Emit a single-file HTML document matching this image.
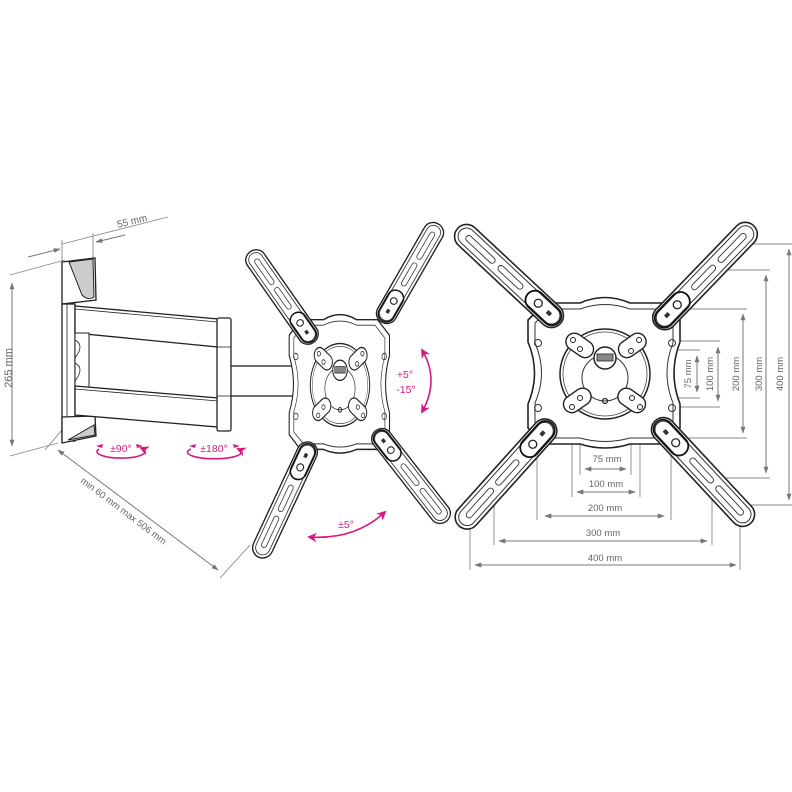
<!DOCTYPE html>
<html><head><meta charset="utf-8"><style>
html,body{margin:0;padding:0;background:#fff}
svg{display:block}
text{font-family:"Liberation Sans",sans-serif}
</style></head><body>
<svg width="792" height="792" viewBox="0 0 792 792" xmlns="http://www.w3.org/2000/svg">
<defs>
<marker id="ag" viewBox="0 0 10 10" refX="9" refY="5" markerWidth="7" markerHeight="7" orient="auto-start-reverse"><path d="M0,1.5 L10,5 L0,8.5 z" fill="#777"/></marker>
<marker id="am" viewBox="0 0 10 10" refX="8" refY="5" markerWidth="6" markerHeight="6" orient="auto-start-reverse"><path d="M0,0 L10,5 L0,10 L3,5 z" fill="#d6197f"/></marker>
<g id="arm">
<rect x="-70" y="-12" width="140" height="24" rx="12" fill="#fff" stroke="#222" stroke-width="1.6"/>
<rect x="-66.5" y="-8.5" width="133" height="17" rx="8.5" fill="none" stroke="#333" stroke-width="1"/>
<rect x="-58" y="-3" width="38" height="6" rx="3" fill="none" stroke="#333" stroke-width="0.9"/>
<rect x="-14" y="-3" width="32" height="6" rx="3" fill="none" stroke="#333" stroke-width="0.9"/>
<rect x="26" y="-9.5" width="42" height="19" rx="9.5" fill="none" stroke="#111" stroke-width="1.8"/>
<circle cx="40" cy="0" r="4" fill="#fff" stroke="#222" stroke-width="1.3"/>
<rect x="52" y="-2" width="5" height="4" fill="#333"/>
</g>
<g id="plate">
<path d="M545,303 L580,303 Q605,292 630,303 L662,303 L680,320 V342 Q668,373 680,404 V428 L662,444 L630,444 Q605,452 580,444 L545,444 L528,428 V404 Q541,373 528,342 V320 Z" fill="#fff" stroke="#222" stroke-width="1.6"/>
<path d="M550,309 L580,309 Q605,300 630,309 L658,309 L673,323 V343 Q661,373 673,403 V425 L658,438 L630,438 Q605,445 580,438 L550,438 L535,425 V403 Q548,373 535,343 V323 Z" fill="none" stroke="#333" stroke-width="1"/>
<circle cx="538" cy="343" r="3.5" fill="none" stroke="#333"/>
<circle cx="672" cy="343" r="3.5" fill="none" stroke="#333"/>
<circle cx="538" cy="408" r="3.5" fill="none" stroke="#333"/>
<circle cx="672" cy="408" r="3.5" fill="none" stroke="#333"/>
<circle cx="605" cy="374" r="45" fill="#fff" stroke="#222" stroke-width="1.5"/>
<circle cx="605" cy="374" r="42" fill="none" stroke="#444" stroke-width="0.8"/>
<circle cx="605" cy="378" r="23" fill="none" stroke="#333" stroke-width="1"/>
<circle cx="605" cy="358" r="11" fill="#fff" stroke="#222" stroke-width="1.5"/>
<rect x="597" y="354" width="16" height="7" fill="#888" stroke="#222" stroke-width="0.8"/>
<circle cx="605" cy="401" r="2.5" fill="none" stroke="#222" stroke-width="1.2"/>
<g fill="#fff" stroke="#222" stroke-width="1.4">
<rect x="565" y="337" width="30" height="17" rx="8.5" transform="rotate(35 580 345)"/>
<rect x="617" y="337" width="30" height="17" rx="8.5" transform="rotate(-35 632 345)"/>
<rect x="562" y="392" width="30" height="17" rx="8.5" transform="rotate(-35 577 400)"/>
<rect x="617" y="392" width="30" height="17" rx="8.5" transform="rotate(35 632 400)"/>
</g>
<g fill="none" stroke="#222" stroke-width="1">
<circle cx="573" cy="340" r="2.5"/><circle cx="580" cy="349" r="2.5"/>
<circle cx="639" cy="340" r="2.5"/><circle cx="631" cy="351" r="2.5"/>
<circle cx="572" cy="407" r="2.5"/><circle cx="580" cy="398" r="2.5"/>
<circle cx="632" cy="398" r="2.5"/><circle cx="640" cy="407" r="2.5"/>
</g>
</g>
</defs>

<g fill="none" stroke="#888" stroke-width="0.9">
<line x1="580" y1="400" x2="580" y2="475"/><line x1="631" y1="400" x2="631" y2="475"/>
<line x1="572" y1="407" x2="572" y2="497"/><line x1="640" y1="407" x2="640" y2="497"/>
<line x1="537" y1="445" x2="537" y2="520"/><line x1="671" y1="445" x2="671" y2="520"/>
<line x1="494" y1="478" x2="494" y2="545"/><line x1="712" y1="478" x2="712" y2="545"/>
<line x1="470" y1="505" x2="470" y2="570"/><line x1="740" y1="505" x2="740" y2="570"/>
<line x1="632" y1="350" x2="700" y2="350"/><line x1="632" y1="398" x2="700" y2="398"/>
<line x1="640" y1="341" x2="720" y2="341"/><line x1="640" y1="407" x2="720" y2="407"/>
<line x1="672" y1="309" x2="747" y2="309"/><line x1="672" y1="438" x2="747" y2="438"/>
<line x1="712" y1="270" x2="770" y2="270"/><line x1="712" y1="478" x2="770" y2="478"/>
<line x1="740" y1="244" x2="792" y2="244"/><line x1="740" y1="505" x2="792" y2="505"/>
</g>
<use href="#plate"/>
<use href="#arm" transform="translate(509,276) rotate(43)"/>
<use href="#arm" transform="translate(705,276) rotate(134)"/>
<use href="#arm" transform="translate(506,474) rotate(-48)"/>
<use href="#arm" transform="translate(703,472) rotate(-133)"/>

<g stroke="#777" stroke-width="1" fill="none" marker-start="url(#ag)" marker-end="url(#ag)">
<line x1="585" y1="469" x2="626" y2="469"/>
<line x1="577" y1="492" x2="635" y2="492"/>
<line x1="545" y1="516" x2="664" y2="516"/>
<line x1="499" y1="541" x2="707" y2="541"/>
<line x1="475" y1="565" x2="736" y2="565"/>
<line x1="697" y1="356" x2="697" y2="392"/>
<line x1="718" y1="347" x2="718" y2="401"/>
<line x1="743" y1="314" x2="743" y2="433"/>
<line x1="766" y1="275" x2="766" y2="473"/>
<line x1="789" y1="249" x2="789" y2="500"/>
</g>
<g fill="#666" font-size="9.5" text-anchor="middle">
<text x="607" y="462">75 mm</text>
<text x="606" y="487">100 mm</text>
<text x="605" y="511">200 mm</text>
<text x="603" y="536">300 mm</text>
<text x="605" y="561">400 mm</text>
<text transform="translate(691,374) rotate(-90)">75 mm</text>
<text transform="translate(713,374) rotate(-90)">100 mm</text>
<text transform="translate(739,374) rotate(-90)">200 mm</text>
<text transform="translate(762,374) rotate(-90)">300 mm</text>
<text transform="translate(783,374) rotate(-90)">400 mm</text>
</g>

<g stroke="#888" stroke-width="0.9" fill="none">
<line x1="10" y1="275" x2="65" y2="260"/>
<line x1="10" y1="456" x2="58" y2="443"/>
<line x1="62" y1="240" x2="62" y2="262"/>
<line x1="93" y1="233" x2="93" y2="258"/>
<line x1="62" y1="244" x2="168" y2="217"/>
<line x1="62" y1="430" x2="45" y2="450"/>
<line x1="250" y1="545" x2="220" y2="578"/>
</g>
<g stroke="#777" stroke-width="1" fill="none">
<line x1="12" y1="283" x2="12" y2="446" marker-start="url(#ag)" marker-end="url(#ag)"/>
<line x1="28" y1="257" x2="60" y2="249" marker-end="url(#ag)"/>
<line x1="125" y1="235" x2="96" y2="242" marker-end="url(#ag)"/>
<line x1="58" y1="450" x2="218" y2="570" marker-start="url(#ag)" marker-end="url(#ag)"/>
</g>
<g fill="#666" font-size="10">
<text transform="translate(12,368) rotate(-90)" text-anchor="middle" font-size="11">265 mm</text>
<text transform="translate(118,228) rotate(-14)">55 mm</text>
<text transform="translate(80,482) rotate(37)" font-size="9.5">min 60 mm max 506 mm</text>
</g>

<g stroke="#222" stroke-width="1.3" fill="#fff">
<path d="M62,262 L95,258 L96,300 L62,304 Z"/>
<path d="M69,262 L93,259 L94,297 Q88,301 82,295 Z" fill="#ccc" stroke-width="1"/>
<rect x="62" y="304" width="13" height="137"/>
<line x1="67" y1="304" x2="67" y2="441" stroke-width="0.8"/>
<path d="M62,417 L95,416 L96,436 L62,443 Z"/>
<path d="M68,440 L94,425 L95,435 Z" fill="#ccc" stroke-width="1"/>
<path d="M75,306 L218,319 L218,347 L75,333 Z"/>
<line x1="75" y1="309" x2="218" y2="322" stroke-width="0.8"/>
<rect x="75" y="333" width="14" height="54" stroke-width="1"/>
<path d="M75,340 q10,5 0,18 M75,363 q10,5 0,18" fill="none" stroke-width="0.8"/>
<path d="M75,386 L218,398 L218,427 L75,415 Z"/>
<line x1="75" y1="389" x2="218" y2="401" stroke-width="0.8"/>
<rect x="230" y="366" width="74" height="30"/>
<rect x="217" y="318" width="14" height="113" rx="2"/>
<line x1="217" y1="347" x2="231" y2="347" stroke-width="0.8"/>
<line x1="217" y1="396" x2="231" y2="396" stroke-width="0.8"/>
</g>

<g transform="translate(340,385) scale(0.66,0.92) translate(-605,-374)">
<use href="#plate"/>
</g>
<use href="#arm" transform="translate(282,297) rotate(55) scale(0.79,0.85)"/>
<use href="#arm" transform="translate(410,273) rotate(120) scale(0.81,0.85)"/>
<use href="#arm" transform="translate(285,500) rotate(-65) scale(0.9,0.85)"/>
<use href="#arm" transform="translate(411,476) rotate(-128) scale(0.82,0.85)"/>

<g stroke="#d6197f" stroke-width="1.6" fill="none">
<path d="M99,449 A24,6.5 0 1 0 141,448" marker-end="url(#am)"/>
<path d="M191,449 A27,6.5 0 1 0 238,449" marker-end="url(#am)"/>
<path d="M422,350 Q440,380 422,412" marker-start="url(#am)" marker-end="url(#am)"/>
<path d="M309,537 Q355,540 385,512" marker-start="url(#am)" marker-end="url(#am)"/>
</g>
<path d="M96,446 l7,-2 l-1,4z M143,446 l-7,-2 l1,4z M189,446 l7,-2 l-1,4z M240,446 l-7,-2 l1,4z" fill="#d6197f"/>
<g fill="#d6197f" font-size="10.5" text-anchor="middle">
<text x="121" y="452">±90°</text>
<text x="214" y="452">±180°</text>
<text x="405" y="378">+5°</text>
<text x="406" y="393">-15°</text>
<text x="346" y="528">±5°</text>
</g>
</svg>
</body></html>
